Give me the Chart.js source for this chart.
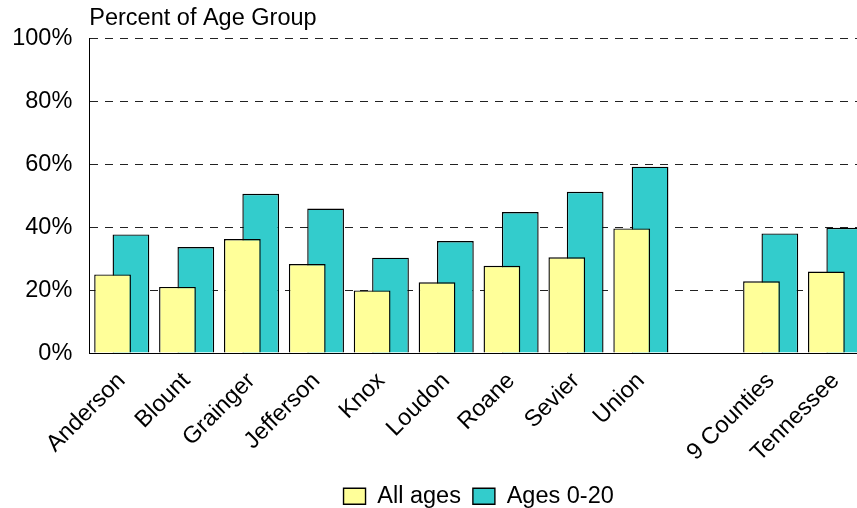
<!DOCTYPE html>
<html>
<head>
<meta charset="utf-8">
<script src="https://cdn.jsdelivr.net/npm/chart.js@4/dist/chart.umd.min.js"></script>
<style>
  html, body { margin: 0; padding: 0; background: #fff; overflow: hidden; }
  #wrap { width: 868px; height: 508px; }
</style>
</head>
<body>
<div id="wrap"><canvas id="ageChart"></canvas></div>
<script>
// counties plus an empty gap before the totals
const counties = ["Anderson", "Blount", "Grainger", "Jefferson", "Knox", "Loudon",
  "Roane", "Sevier", "Union", "", "9 Counties", "Tennessee"];
const allAges = [25.0, 21.0, 36.2, 28.3, 19.9, 22.5, 27.7, 30.4, 39.6, null, 22.8, 25.9];
const ages0to20 = [37.7, 33.7, 50.6, 45.9, 30.3, 35.6, 44.8, 51.2, 59.2, null, 38.0, 39.8];
const yTicks = [0, 20, 40, 60, 80, 100];

Chart.defaults.font.family = "'Liberation Sans', Arial, sans-serif";
Chart.defaults.font.size = 23.5;
Chart.defaults.color = "#000";

// push the legend a bit lower than chart.js puts it
const legendShift = {
  id: "legendShift",
  afterLayout(chart) {
    chart.legend.top += 10;
    chart.legend.bottom += 10;
  },
};

const ageConfig = {
  type: "bar",
  data: {
    labels: counties,
    datasets: [
      {
        label: "All ages",
        data: allAges,
        backgroundColor: "#FFFF99",
        borderColor: "#000",
        borderWidth: 1.4,
      },
      {
        label: "Ages 0-20",
        data: ages0to20,
        backgroundColor: "#33CCCC",
        borderColor: "#000",
        borderWidth: 1.4,
      },
    ],
  },
  options: {
    responsive: true,
    maintainAspectRatio: false,
    animation: false,
    // bars overlap: wide bars in narrow slots
    categoryPercentage: 0.566,
    barPercentage: 2.0,
    layout: { padding: 0 },
    plugins: {
      title: {
        display: true,
        text: "Percent of Age Group",
        align: "start",
        fullSize: false,
        color: "#000",
        font: { weight: "normal", size: 23.5 },
        padding: { top: 4, bottom: 6 },
      },
      legend: {
        position: "bottom",
        fullSize: false,
        labels: {
          boxWidth: 22,
          boxHeight: 16,
          padding: 12,
          color: "#000",
        },
      },
      tooltip: { enabled: false },
    },
    scales: {
      x: {
        grid: { display: false, drawTicks: false },
        border: { display: true, color: "#000", width: 1 },
        ticks: { minRotation: 45, maxRotation: 45, padding: 14, autoSkip: false },
        afterFit: (scale) => {
          scale.height = 109.4;
          scale.paddingLeft = 0;
          scale.paddingRight = 0;
        },
      },
      y: {
        min: 0,
        max: 100,
        afterBuildTicks: (scale) => { scale.ticks = yTicks.map((v) => ({ value: v })); },
        afterFit: (scale) => { scale.width = 89.3; },
        ticks: { padding: 17, callback: (v) => v + "%" },
        grid: { color: "#222", lineWidth: 1, drawTicks: false },
        border: { display: true, color: "#000", width: 1, dash: [8, 7] },
      },
    },
  },
  plugins: [legendShift],
};

const ageCtx = document.getElementById("ageChart");
window.ageChart = new Chart(ageCtx, ageConfig);
</script>
</body>
</html>
